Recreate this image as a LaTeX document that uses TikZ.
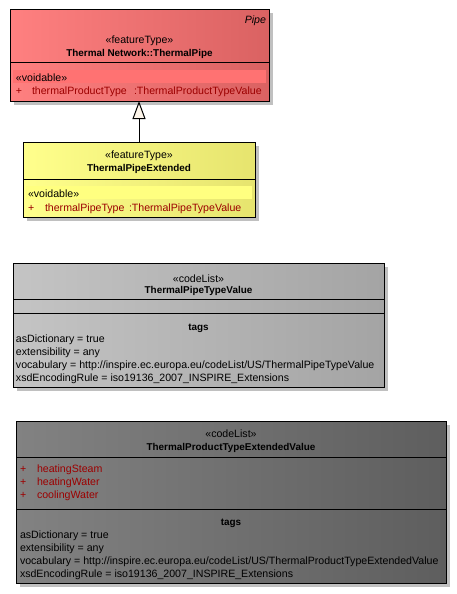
\documentclass[tikz,border=0pt]{standalone}
\usepackage{fontspec}
\setmainfont{Liberation Sans}
\usetikzlibrary{arrows.meta,shadows}

\definecolor{attrred}{HTML}{9C0000}
\definecolor{shadowgray}{HTML}{C0C0C0}
\definecolor{tipfill}{HTML}{FDF5EA}
\definecolor{redL}{HTML}{FF8080}
\definecolor{redR}{HTML}{DA6262}
\definecolor{redband}{HTML}{FF7272}
\definecolor{yelL}{HTML}{FFFF8C}
\definecolor{yelR}{HTML}{E6E46E}
\definecolor{yelband}{HTML}{FFFF80}
\definecolor{lgrL}{HTML}{C4C4C4}
\definecolor{lgrR}{HTML}{A4A4A4}
\definecolor{dgrL}{HTML}{828282}
\definecolor{dgrR}{HTML}{5E5E5E}

\begin{document}
\begin{tikzpicture}[x=1pt,y=-1pt,
  every node/.style={inner sep=0pt, outer sep=0pt},
  txt/.style={font=\fontsize{10.6}{12}\selectfont, yshift=-1.8pt},
  bold/.style={font=\fontsize{9.9}{12}\selectfont\bfseries, yshift=-1.8pt},
  attr/.style={txt, text=attrred},
  classbox/.style={draw=black, line width=1pt, rectangle, anchor=north west,
    drop shadow={shadow xshift=3.5pt, shadow yshift=-3.5pt, fill=shadowgray, opacity=1}},
  sep/.style={draw=black, line width=1pt},
  gen/.style={draw=black, line width=1pt,
    -{Triangle[length=18pt, width=13pt, fill=tipfill, line width=1pt]}}
]
\useasboundingbox (0,0) rectangle (456,594);

% ---- class boxes ----
\node[classbox, left color=redL, right color=redR,
      minimum width=259pt, minimum height=91pt] (pipe) at (10,10) {};
\node[classbox, left color=yelL, right color=yelR,
      minimum width=232pt, minimum height=75pt] (ext) at (23,142) {};
\node[classbox, left color=lgrL, right color=lgrR,
      minimum width=371pt, minimum height=124pt] (ptv) at (13,263) {};
\node[classbox, left color=dgrL, right color=dgrR,
      minimum width=430pt, minimum height=162pt] (ptev) at (16,421) {};

% highlighted attribute groups
\fill[redband] (13,70) rectangle (266,83);
\fill[yelband] (26,186) rectangle (252,199);

% compartment separators
\draw[sep] (pipe.west |- 0,63) -- (pipe.east |- 0,63);
\draw[sep] (ext.west |- 0,179) -- (ext.east |- 0,179);
\draw[sep] (ptv.west |- 0,299) -- (ptv.east |- 0,299);
\draw[sep] (ptv.west |- 0,313) -- (ptv.east |- 0,313);
\draw[sep] (ptev.west |- 0,457) -- (ptev.east |- 0,457);
\draw[sep] (ptev.west |- 0,509) -- (ptev.east |- 0,509);

% generalization
\draw[gen] (ext.north) -- (ext.north |- pipe.south);

% ---- ThermalPipe ----
\node[txt, anchor=mid east, font=\fontsize{10.6}{12}\selectfont\itshape] (pipeparent) at (266,19) {Pipe};
\node[txt, anchor=mid] (pipestereo) at (139.5,39) {«featureType»};
\node[bold, anchor=mid] (pipename) at (139.5,52) {Thermal Network::ThermalPipe};
\node[txt, anchor=mid west] (pipevoid) at (16,77) {«voidable»};
\node[attr, anchor=mid west] (pipeplus) at (16,90) {+};
\node[attr, anchor=mid west] (pipeattr) at (32,90) {thermalProductType};
\node[attr, anchor=mid west] (pipetype) at (134,90) {:ThermalProductTypeValue};

% ---- ThermalPipeExtended ----
\node[txt, anchor=mid] (extstereo) at (139,154) {«featureType»};
\node[bold, anchor=mid] (extname) at (139,167) {ThermalPipeExtended};
\node[txt, anchor=mid west] (extvoid) at (28,193) {«voidable»};
\node[attr, anchor=mid west] (extplus) at (28,207) {+};
\node[attr, anchor=mid west] (extattr) at (45,207) {thermalPipeType};
\node[attr, anchor=mid west] (exttype) at (129,207) {:ThermalPipeTypeValue};

% ---- ThermalPipeTypeValue ----
\node[txt, anchor=mid] (ptvstereo) at (198.5,278) {«codeList»};
\node[bold, anchor=mid] (ptvname) at (198.5,289) {ThermalPipeTypeValue};
\node[bold, anchor=mid] (ptvtags) at (198.5,326) {tags};
\node[txt, anchor=mid west] (ptvt1) at (16,338) {asDictionary = true};
\node[txt, anchor=mid west] (ptvt2) at (16,351) {extensibility = any};
\node[txt, anchor=mid west] (ptvt3) at (16,364) {vocabulary = http://inspire.ec.europa.eu/codeList/US/ThermalPipeTypeValue};
\node[txt, anchor=mid west] (ptvt4) at (16,377) {xsdEncodingRule = iso19136\_2007\_INSPIRE\_Extensions};

% ---- ThermalProductTypeExtendedValue ----
\node[txt, anchor=mid] (ptevstereo) at (231,433) {«codeList»};
\node[bold, anchor=mid] (ptevname) at (231,446) {ThermalProductTypeExtendedValue};
\node[attr, anchor=mid west] (ptevp1) at (20,468) {+};
\node[attr, anchor=mid west] (ptevv1) at (37,468) {heatingSteam};
\node[attr, anchor=mid west] (ptevp2) at (20,481) {+};
\node[attr, anchor=mid west] (ptevv2) at (37,481) {heatingWater};
\node[attr, anchor=mid west] (ptevp3) at (20,494) {+};
\node[attr, anchor=mid west] (ptevv3) at (37,494) {coolingWater};
\node[bold, anchor=mid] (ptevtags) at (231,521) {tags};
\node[txt, anchor=mid west] (ptevt1) at (20,534) {asDictionary = true};
\node[txt, anchor=mid west] (ptevt2) at (20,547) {extensibility = any};
\node[txt, anchor=mid west] (ptevt3) at (20,560) {vocabulary = http://inspire.ec.europa.eu/codeList/US/ThermalProductTypeExtendedValue};
\node[txt, anchor=mid west] (ptevt4) at (20,573) {xsdEncodingRule = iso19136\_2007\_INSPIRE\_Extensions};
\end{tikzpicture}
\end{document}
